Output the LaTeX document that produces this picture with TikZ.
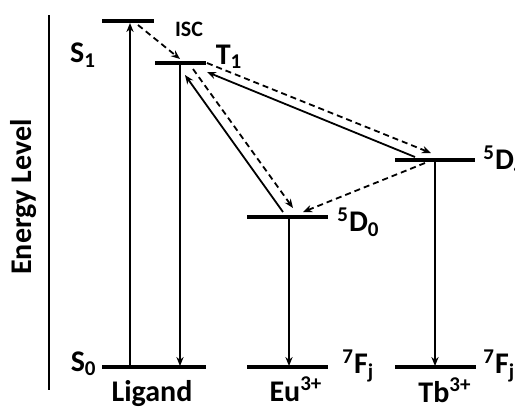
\documentclass[tikz,border=0pt]{standalone}
\usepackage{fontspec}
\setmainfont{Carlito}
\usepackage{tikz}
\usetikzlibrary{positioning, arrows.meta, calc}
\tikzset{>={Stealth[length=4.5pt, width=3.6pt]}}

\begin{document}
\begin{tikzpicture}[x=0.5pt, y=-0.5pt, every node/.style={font=\fontsize{15}{17}\selectfont\bfseries, inner sep=0pt},
  lvl/.style={line width=1.7pt}, tr/.style={->, line width=0.9pt}, nrt/.style={->, line width=0.9pt, dash pattern=on 3pt off 2pt}]
\useasboundingbox (0,0) rectangle (515,409);
% energy axis
\draw[line width=1pt] (49,15) coordinate (ax1) -- (49,390) coordinate (ax2);
\node[rotate=90] (elabel) at (24,197) {Energy Level};
% levels
\coordinate (s1a) at (102,21); \coordinate (s1b) at (154,21);
\coordinate (t1a) at (155,63); \coordinate (t1b) at (206,63);
\coordinate (s0a) at (102,367); \coordinate (s0b) at (206,367);
\coordinate (d0a) at (247,217); \coordinate (d0b) at (328,217);
\coordinate (feua) at (247,367); \coordinate (feub) at (328,367);
\coordinate (d4a) at (395,160); \coordinate (d4b) at (475,160);
\coordinate (ftba) at (395,367); \coordinate (ftbb) at (476,367);
\draw[lvl] (s1a)--(s1b); \draw[lvl] (t1a)--(t1b); \draw[lvl] (s0a)--(s0b);
\draw[lvl] (d0a)--(d0b); \draw[lvl] (feua)--(feub);
\draw[lvl] (d4a)--(d4b); \draw[lvl] (ftba)--(ftbb);
% labels
\node (s1) at (83,55) {S\textsubscript{1}};
\node (t1) at (229,57) {T\textsubscript{1}};
\node[font=\fontsize{11}{13}\selectfont\bfseries] (isc) at (189,29) {ISC};
\node[anchor=west] (d4) at (483,160) {\textsuperscript{5}D\textsubscript{4}};
\node[anchor=west] (d0) at (337,222) {\textsuperscript{5}D\textsubscript{0}};
\node[anchor=east] (s0) at (97,364) {S\textsubscript{0}};
\node[anchor=west] (feu) at (342,366) {\textsuperscript{7}F\textsubscript{j}};
\node[anchor=west] (ftb) at (483,366) {\textsuperscript{7}F\textsubscript{j}};
\node[anchor=base] (lig) at (152,401) {Ligand};
\node[anchor=base] (eu) at (296,401) {Eu\textsuperscript{3+}};
\node[anchor=base] (tb) at (445,402) {Tb\textsuperscript{3+}};
% transitions
\coordinate (ex0) at (130,367); \coordinate (ex1) at (130,23);
\coordinate (fl0) at (180,65); \coordinate (fl1) at (180,366);
\coordinate (ic0) at (138,25); \coordinate (ic1) at (180,59);
\coordinate (et0) at (207,63); \coordinate (et1) at (431,153);
\coordinate (bt0) at (415,157); \coordinate (bt1) at (207,72);
\coordinate (dd0) at (425,163); \coordinate (dd1) at (303,212);
\coordinate (be0) at (283,212); \coordinate (be1) at (185,75);
\coordinate (ee0) at (193,69); \coordinate (ee1) at (293,208);
\coordinate (eu0) at (289,219); \coordinate (eu1) at (289,366);
\coordinate (tb0) at (435,162); \coordinate (tb1) at (435,366);
\draw[tr] (ex0)--(ex1); \draw[tr] (fl0)--(fl1);
\draw[nrt] (ic0)--(ic1);
\draw[nrt] (et0)--(et1); \draw[tr] (bt0)--(bt1);
\draw[nrt] (dd0)--(dd1);
\draw[tr] (be0)--(be1); \draw[nrt] (ee0)--(ee1);
\draw[tr] (eu0)--(eu1); \draw[tr] (tb0)--(tb1);
\end{tikzpicture}
\end{document}
